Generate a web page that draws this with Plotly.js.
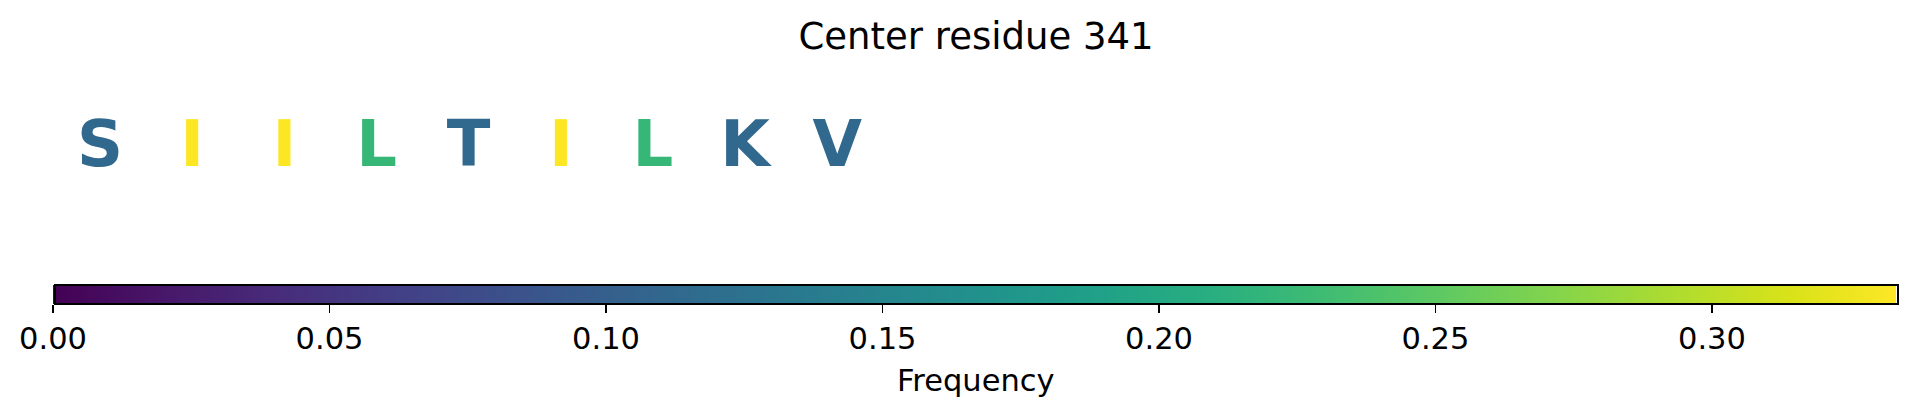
<!DOCTYPE html>
<html>
<head>
<meta charset="utf-8">
<script src="https://cdn.plot.ly/plotly-3.0.1.min.js"></script>
<style>
  html, body { margin: 0; padding: 0; background: #ffffff; }
  #chart { width: 1917px; height: 416px; }
</style>
</head>
<body>
<div id="chart"></div>
<script>
// ---- data ----
const chartTitle = 'Center residue 341';
const residues = ['S', 'I', 'I', 'L', 'T', 'I', 'L', 'K', 'V'];
const frequencies = [0.1111, 0.3333, 0.3333, 0.2222, 0.1111, 0.3333, 0.2222, 0.1111, 0.1111];
const colorbarTitle = 'Frequency';
const colorbarTickVals = [0.00, 0.05, 0.10, 0.15, 0.20, 0.25, 0.30];

// matplotlib viridis (same stops as Plotly's Viridis)
const viridis = [
  [0, '#440154'], [0.06274509803921569, '#48186a'], [0.12549019607843137, '#472d7b'],
  [0.18823529411764706, '#424086'], [0.25098039215686274, '#3b528b'], [0.3137254901960784, '#33638d'],
  [0.3764705882352941, '#2c728e'], [0.4392156862745098, '#26828e'], [0.5019607843137255, '#21918c'],
  [0.5647058823529412, '#1fa088'], [0.6274509803921569, '#28ae80'], [0.6901960784313725, '#3fbc73'],
  [0.7529411764705882, '#5ec962'], [0.8156862745098039, '#84d44b'], [0.8784313725490196, '#addc30'],
  [0.9411764705882353, '#d8e219'], [1, '#fde725']
];

const cmin = 0;
const cmax = Math.max.apply(null, frequencies);

function hexToRgb(h) {
  return [parseInt(h.slice(1, 3), 16), parseInt(h.slice(3, 5), 16), parseInt(h.slice(5, 7), 16)];
}
function colorAt(v) {
  let t = (v - cmin) / (cmax - cmin);
  t = Math.max(0, Math.min(1, t));
  for (let i = 0; i < viridis.length - 1; i++) {
    const a = viridis[i], b = viridis[i + 1];
    if (t >= a[0] && t <= b[0]) {
      const f = (t - a[0]) / (b[0] - a[0]);
      const ca = hexToRgb(a[1]), cb = hexToRgb(b[1]);
      const c = ca.map((x, k) => Math.round(x + (cb[k] - x) * f));
      return 'rgb(' + c.join(',') + ')';
    }
  }
  return viridis[viridis.length - 1][1];
}

const positions = residues.map((_, i) => i);
const letterColors = frequencies.map(colorAt);

const FONT = 'DejaVu Sans, Verdana, sans-serif';

const trace = {
  type: 'scatter',
  mode: 'markers+text',
  x: positions,
  y: positions.map(() => 0),
  text: residues,
  textposition: 'middle center',
  textfont: { family: FONT, size: 64, weight: 'bold', color: letterColors },
  hoverinfo: 'skip',
  marker: {
    size: 0,
    opacity: 0,
    color: frequencies,
    colorscale: viridis,
    cmin: cmin,
    cmax: cmax,
    showscale: true,
    colorbar: {
      orientation: 'h',
      xref: 'container',
      x: (976.1 + 37.6) / 1917,
      xanchor: 'center',
      yref: 'container',
      y: 1 - 285 / 416,
      yanchor: 'top',
      lenmode: 'pixels',
      len: 1843,
      thicknessmode: 'pixels',
      thickness: 19,
      xpad: 0,
      ypad: 0,
      outlinewidth: 2,
      outlinecolor: '#000000',
      borderwidth: 0,
      ticks: 'outside',
      ticklen: 8,
      tickwidth: 1.8,
      tickcolor: '#000000',
      tickvals: colorbarTickVals,
      tickformat: '.2f',
      tickfont: { family: FONT, size: 30.5, color: '#000000' },
      title: { text: '', side: 'bottom' }
    }
  }
};

const layout = {
  width: 1917,
  height: 416,
  paper_bgcolor: '#ffffff',
  plot_bgcolor: '#ffffff',
  showlegend: false,
  margin: { l: 54, r: 20, t: 50, b: 166, pad: 0 },
  title: {
    text: chartTitle,
    font: { family: FONT, size: 37, color: '#000000' },
    xref: 'container',
    x: 976 / 1917,
    xanchor: 'center',
    yref: 'container',
    y: 1 - 36.3 / 416,
    yanchor: 'middle'
  },
  xaxis: { range: [-0.5, 19.5], visible: false, showgrid: false, zeroline: false, fixedrange: true },
  yaxis: { range: [-1, 1], visible: false, showgrid: false, zeroline: false, fixedrange: true },
  annotations: [{
    text: colorbarTitle,
    xref: 'paper', x: 0.5, xanchor: 'center',
    yref: 'paper', y: -(380 - 250) / 200, yanchor: 'middle',
    showarrow: false,
    font: { family: FONT, size: 30.5, color: '#000000' }
  }]
};

Plotly.newPlot('chart', [trace], layout, { displayModeBar: false, staticPlot: true });
</script>
</body>
</html>
